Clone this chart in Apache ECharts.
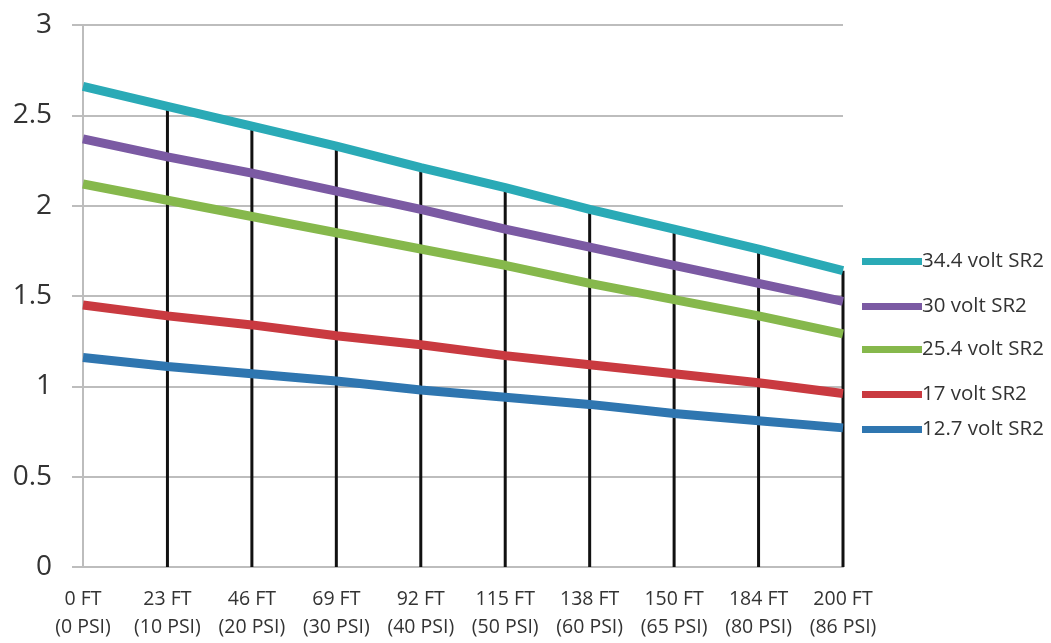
<!DOCTYPE html>
<html>
<head>
<meta charset="utf-8">
<script src="https://cdn.jsdelivr.net/npm/echarts@6/dist/echarts.min.js"></script>
<style>
html,body{margin:0;padding:0;background:#fff;}
#chart{width:1051px;height:643px;}
</style>
</head>
<body>
<div id="chart"></div>
<script>
const categories = ['0 FT\n(0 PSI)','23 FT\n(10 PSI)','46 FT\n(20 PSI)','69 FT\n(30 PSI)','92 FT\n(40 PSI)','115 FT\n(50 PSI)','138 FT\n(60 PSI)','150 FT\n(65 PSI)','184 FT\n(80 PSI)','200 FT\n(86 PSI)'];
const yTicks = [0, 0.5, 1, 1.5, 2, 2.5, 3];
const v34_4 = [2.66, 2.55, 2.44, 2.33, 2.21, 2.10, 1.98, 1.87, 1.76, 1.64];
const v30   = [2.37, 2.27, 2.18, 2.08, 1.98, 1.87, 1.77, 1.67, 1.57, 1.47];
const v25_4 = [2.12, 2.03, 1.94, 1.85, 1.76, 1.67, 1.57, 1.48, 1.39, 1.29];
const v17   = [1.45, 1.39, 1.34, 1.28, 1.23, 1.17, 1.12, 1.07, 1.02, 0.96];
const v12_7 = [1.16, 1.11, 1.07, 1.03, 0.98, 0.94, 0.90, 0.85, 0.81, 0.77];
const names = ['34.4 volt SR2','30 volt SR2','25.4 volt SR2','17 volt SR2','12.7 volt SR2'];
const seriesData = [v34_4, v30, v25_4, v17, v12_7];
const colors = ['#2aaab6','#7b5aa3','#86b84c','#c93a40','#2f76b0'];
const legendTops = [246, 291, 334, 379, 414];

const chart = echarts.init(document.getElementById('chart'));
const font = '"Open Sans", Lato, sans-serif';

const dropData = v34_4.map((v, i) => i === 0 ? '-' : v);

const series = [{
  name: 'drop',
  type: 'bar',
  data: dropData,
  barWidth: 3,
  itemStyle: { color: '#111' },
  silent: true,
  z: 1
}];
names.forEach((n, i) => {
  series.push({
    name: n,
    type: 'line',
    data: seriesData[i],
    symbol: 'none',
    lineStyle: { width: 9, color: colors[i] },
    itemStyle: { color: colors[i] },
    z: 2 + (5 - i)
  });
});

const legends = names.map((n, i) => ({
  data: [n],
  left: 857,
  top: legendTops[i],
  icon: 'rect',
  itemWidth: 60,
  itemHeight: 7,
  itemGap: 0,
  textStyle: { fontFamily: font, fontSize: 20.5, color: '#333', padding: [0,0,0,-5] }
}));

chart.setOption({
  animation: false,
  backgroundColor: '#fff',
  grid: { left: 83, right: 208, top: 25, bottom: 76, containLabel: false },
  legend: legends,
  xAxis: {
    type: 'category',
    data: categories,
    boundaryGap: false,
    axisLine: { show: true, lineStyle: { color: '#bdbdbd', width: 2 } },
    axisTick: { show: false },
    splitLine: { show: false },
    axisLabel: { fontFamily: font, fontSize: 19.5, color: '#333', lineHeight: 28, margin: 18, interval: 0 }
  },
  yAxis: {
    type: 'value',
    min: yTicks[0],
    max: yTicks[yTicks.length - 1],
    interval: 0.5,
    axisLine: { show: true, lineStyle: { color: '#bdbdbd', width: 2 } },
    axisTick: { show: true, length: 11, lineStyle: { color: '#bdbdbd', width: 2 } },
    splitLine: { show: true, lineStyle: { color: '#bdbdbd', width: 2 } },
    axisLabel: { fontFamily: font, fontSize: 28, color: '#333', margin: 31 }
  },
  series: series
});
</script>
</body>
</html>
